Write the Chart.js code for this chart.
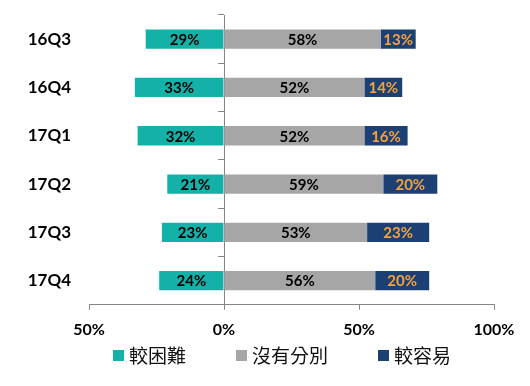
<!DOCTYPE html>
<html>
<head>
<meta charset="utf-8">
<script src="https://cdn.jsdelivr.net/npm/chart.js@4.4.0/dist/chart.umd.min.js"></script>
<style>
  body { margin: 0; background: #fff; }
  #wrap { position: relative; width: 530px; height: 386px; }
  #legend {
    position: absolute; left: 113px; top: 344px;
    display: flex; align-items: center;
    font: 19px/22px "Noto Sans CJK TC", sans-serif; color: #111;
  }
  #legend .item { display: flex; align-items: center; margin-right: 50px; }
  #legend .box { width: 11px; height: 11px; margin-right: 5px; }
</style>
</head>
<body>
<div id="wrap">
  <canvas id="surveyChart" width="530" height="386"></canvas>
  <div id="legend"></div>
</div>
<script>
const quarters = ["16Q3", "16Q4", "17Q1", "17Q2", "17Q3", "17Q4"];
const seriesNames = ["較困難", "沒有分別", "較容易"];
const harder = [29, 33, 32, 21, 23, 24];     // drawn to the left of 0
const noChange = [58, 52, 52, 59, 53, 56];
const easier = [13, 14, 16, 20, 23, 20];

const axisGray = "#868686";
Chart.defaults.font.family = "Lato";

// draw the % value in the middle of every bar
const barLabels = {
  id: "barLabels",
  afterDatasetsDraw(chart) {
    const ctx = chart.ctx;
    ctx.save();
    ctx.font = "bold 15px Lato";
    ctx.textAlign = "center";
    ctx.textBaseline = "middle";
    chart.data.datasets.forEach((ds, i) => {
      ctx.fillStyle = ds.labelColor;
      chart.getDatasetMeta(i).data.forEach((bar, j) => {
        const x = (bar.x + bar.base) / 2;
        ctx.fillText(Math.abs(ds.data[j]) + "%", x, bar.y + 1);
      });
    });
    ctx.restore();
  }
};

const chart = new Chart(document.getElementById("surveyChart"), {
  type: "bar",
  data: {
    labels: quarters,
    datasets: [
      { label: seriesNames[0], data: harder.map(v => -v), backgroundColor: "#14B1A8", labelColor: "#000" },
      { label: seriesNames[1], data: noChange, backgroundColor: "#A6A6A6", labelColor: "#000" },
      { label: seriesNames[2], data: easier, backgroundColor: "#1C3F74", labelColor: "#F7A23C" }
    ]
  },
  options: {
    responsive: false,
    animation: false,
    indexAxis: "y",
    datasets: { bar: { categoryPercentage: 1, barPercentage: 0.4 } },
    layout: { padding: { top: 15, right: 36, bottom: 37, left: 0 } },
    plugins: { legend: { display: false }, tooltip: { enabled: false } },
    scales: {
      x: {
        stacked: true,
        min: -50,
        max: 100,
        ticks: {
          stepSize: 50,
          callback: v => Math.abs(v) + "%",
          font: { size: 16, weight: "bold" },
          color: "#000",
          padding: 10
        },
        grid: { drawOnChartArea: false, tickLength: 5, color: axisGray },
        border: { color: axisGray }
      },
      y: {
        stacked: true,
        // grid hidden, tickLength only used as the gap before the labels
        grid: { display: false, tickLength: 18 },
        border: { display: false },
        ticks: { padding: 0, font: { size: 17, weight: "bold" }, color: "#000" },
        afterFit: scale => { scale.width = 89; }
      },
      // vertical line at 0 with the category ticks
      y2: {
        type: "category",
        axis: "y",
        position: { x: 0 },
        offset: true,
        z: 1,
        grid: { offset: true, drawOnChartArea: false, tickLength: 6, color: axisGray },
        border: { color: axisGray },
        ticks: { display: false }
      }
    }
  },
  plugins: [barLabels]
});

// html legend
const legendEl = document.getElementById("legend");
chart.data.datasets.forEach(ds => {
  const item = document.createElement("div");
  item.className = "item";
  item.innerHTML = `<span class="box" style="background:${ds.backgroundColor}"></span><span>${ds.label}</span>`;
  legendEl.appendChild(item);
});
</script>
</body>
</html>
